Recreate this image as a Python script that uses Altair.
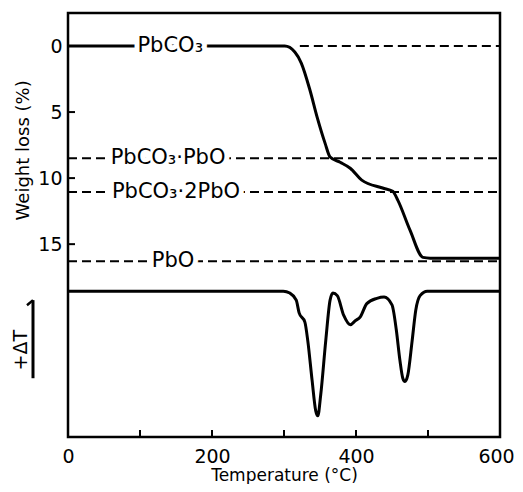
import altair as alt
import pandas as pd

# ---- data ----
# Thermogravimetric curve: temperature (°C) vs weight loss (%)
tg_temp = [0, 301, 315, 324, 336, 346, 357, 364, 378, 392, 408, 437, 451, 458, 475, 493, 503, 600]
tg_loss = [0, 0, 0.45, 1.29, 3.33, 5.38, 7.35, 8.4, 8.8, 9.25, 10.15, 10.75, 11.0, 11.67, 13.94, 16.0, 16.06, 16.06]

# DTA curve: temperature (°C) vs ΔT (arbitrary units, baseline 0)
dta_temp = [0, 299, 308, 317, 321, 329, 333, 339, 344, 347, 351, 358, 364, 368, 374, 383, 392, 399,
            406, 415, 429, 439, 450, 456, 461, 465, 468, 472, 478, 483, 489, 499, 600]
dta_dt = [0, 0, -0.14, -0.68, -1.64, -2.34, -3.74, -6.74, -9.04, -9.44, -7.84, -3.74, -0.68, -0.14,
          -0.34, -1.84, -2.54, -2.24, -1.94, -0.94, -0.54, -0.44, -1.04, -2.94, -5.24, -6.59, -6.84,
          -6.34, -3.74, -1.44, -0.34, 0, 0]

# Phase reference levels
phase_names = ["PbCO₃", "PbCO₃·PbO", "PbCO₃·2PbO", "PbO"]
phase_loss = [0, 8.5, 11.05, 16.3]
phase_label_temp = [142, 139, 150, 146]
phase_dash_start = [322, 0, 0, 0]
phase_dash_end = [600, 600, 600, 600]

x_label_values = [0, 200, 400, 600]
x_tick_values = [100, 200, 300, 400, 500]
y_tick_values = [0, 5, 10, 15]

y_title = "Weight loss (%)"
y_title_pos = 7.9
dta_title = "+ΔT"
dta_title_pos = -4.47
dta_arrow = [-0.68, -6.59]
dta_hook = [-0.68, -1.06]

FONT = "DejaVu Sans"

tg_df = pd.DataFrame({"T": tg_temp, "w": tg_loss})
dta_df = pd.DataFrame({"T": dta_temp, "d": dta_dt})
phase_df = pd.DataFrame({"name": phase_names, "w": phase_loss, "T": phase_label_temp,
                         "x0": phase_dash_start, "x1": phase_dash_end})
xt_df = pd.DataFrame({"T": x_tick_values})
yt_df = pd.DataFrame({"w": y_tick_values})
ytitle_df = pd.DataFrame({"w": [y_title_pos], "text": [y_title]})
dtitle_df = pd.DataFrame({"d": [dta_title_pos], "text": [dta_title]})
arrow_df = pd.DataFrame({"d": [dta_arrow[0]], "d2": [dta_arrow[1]]})
hook_df = pd.DataFrame({"d": [dta_hook[0]], "d2": [dta_hook[1]]})

xscale = alt.Scale(domain=[0, 600], nice=False, zero=False)
yw = alt.Scale(domain=[-2.5, 29.6], reverse=True, nice=False, zero=False)
yd = alt.Scale(domain=[-11.04, 21.06], nice=False, zero=False)

X_AXIS = alt.Axis(values=x_label_values, ticks=False, domain=False, grid=False, labelFlush=False,
                  labelOffset={"condition": {"test": "datum.value == 600", "value": -4}, "value": 0},
                  labelFont=FONT, labelFontSize=19, labelColor="black", labelPadding=10,
                  title="Temperature (°C)", titleFont=FONT, titleFontSize=17,
                  titleFontWeight="normal", titleColor="black", titlePadding=1)
Y_AXIS = alt.Axis(values=y_tick_values, ticks=False, domain=False, grid=False, labelFlush=False,
                  labelFont=FONT, labelFontSize=19, labelColor="black", labelPadding=6,
                  title=None)

X = alt.X("T:Q", scale=xscale, axis=X_AXIS)

tg_line = alt.Chart(tg_df).mark_line(color="black", strokeWidth=3, interpolate="monotone").encode(
    x=X, y=alt.Y("w:Q", scale=yw, axis=Y_AXIS))

dashes = alt.Chart(phase_df).mark_rule(color="black", strokeWidth=2, strokeDash=[9, 5]).encode(
    x=alt.X("x0:Q", scale=xscale, axis=X_AXIS), x2="x1:Q",
    y=alt.Y("w:Q", scale=yw, axis=Y_AXIS))

halo = alt.Chart(phase_df).mark_text(font=FONT, fontSize=21, stroke="white", strokeWidth=10,
                                     strokeJoin="round", fill="white", baseline="middle").encode(
    x=X, y=alt.Y("w:Q", scale=yw, axis=Y_AXIS), text="name:N")
labels = alt.Chart(phase_df).mark_text(font=FONT, fontSize=21, color="black", baseline="middle").encode(
    x=X, y=alt.Y("w:Q", scale=yw, axis=Y_AXIS), text="name:N")

xticks = alt.Chart(xt_df).mark_rule(color="black", strokeWidth=2).encode(
    x=X, y=alt.value(424), y2=alt.value(417))
yticks = alt.Chart(yt_df).mark_rule(color="black", strokeWidth=2).encode(
    y=alt.Y("w:Q", scale=yw, axis=Y_AXIS), x=alt.value(0), x2=alt.value(7))

ytitle = alt.Chart(ytitle_df).mark_text(font=FONT, fontSize=18, angle=270, color="black",
                                        baseline="middle").encode(
    x=alt.value(-44), y=alt.Y("w:Q", scale=yw, axis=Y_AXIS), text="text:N")

weight_layer = alt.layer(dashes, tg_line, halo, labels, xticks, yticks, ytitle)

dta_line = alt.Chart(dta_df).mark_line(color="black", strokeWidth=3, interpolate="monotone").encode(
    x=X, y=alt.Y("d:Q", scale=yd, axis=None))
dta_text = alt.Chart(dtitle_df).mark_text(font=FONT, fontSize=19, angle=270, color="black",
                                          baseline="middle").encode(
    x=alt.value(-47), y=alt.Y("d:Q", scale=yd, axis=None), text="text:N")
arrow = alt.Chart(arrow_df).mark_rule(color="black", strokeWidth=3).encode(
    x=alt.value(-35), y=alt.Y("d:Q", scale=yd, axis=None), y2="d2:Q")
hook = alt.Chart(hook_df).mark_rule(color="black", strokeWidth=2.5).encode(
    x=alt.value(-35), x2=alt.value(-41), y=alt.Y("d:Q", scale=yd, axis=None), y2="d2:Q")

dta_layer = alt.layer(dta_line, dta_text, arrow, hook)

chart = alt.layer(weight_layer, dta_layer).resolve_scale(y="independent").properties(
    width=432, height=424,
    autosize=alt.AutoSizeParams(type="none"),
    padding={"left": 60, "top": 5, "right": 15, "bottom": 47},
    background="white",
).configure_view(stroke="black", strokeWidth=2.5)

chart.save("out.html", embed_options={"renderer": "svg", "actions": False})
